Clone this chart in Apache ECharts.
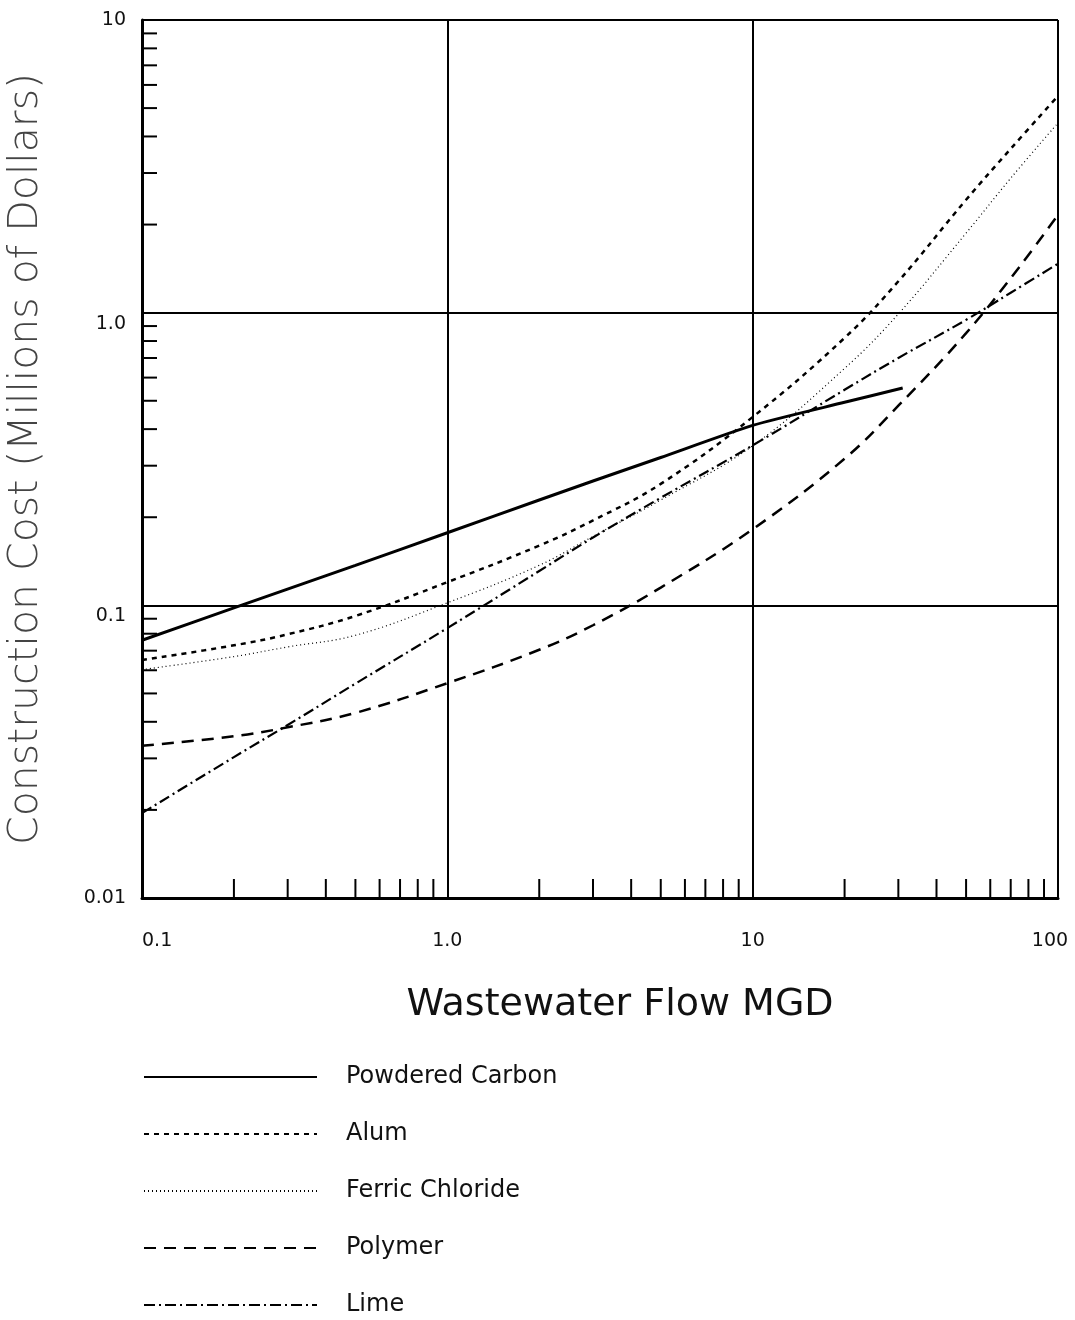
<!DOCTYPE html>
<html>
<head>
<meta charset="utf-8">
<script src="https://cdn.jsdelivr.net/npm/echarts@6/dist/echarts.min.js"></script>
<style>
  html, body { margin: 0; padding: 0; background: #fff; }
  #chart { width: 1075px; height: 1320px; }
</style>
</head>
<body>
<div id="chart"></div>
<script>
// values (flow in MGD, cost in millions of dollars)
const carbonFlow = [0.1, 0.2, 0.5, 1, 2, 3, 5, 10, 20, 31];
const carbonCost = [0.076, 0.098, 0.137, 0.177, 0.229, 0.266, 0.32, 0.412, 0.494, 0.553];

const alumFlow = [0.1, 0.2, 0.3, 0.5, 1, 2, 3, 5, 10, 20, 30, 50, 70, 100];
const alumCost = [0.065, 0.073, 0.0796, 0.092, 0.12, 0.16, 0.195, 0.26, 0.44, 0.82, 1.28, 2.43, 3.63, 5.5];

const ferricFlow = [0.1, 0.2, 0.3, 0.5, 1, 2, 3, 5, 10, 20, 30, 50, 70, 100];
const ferricCost = [0.0603, 0.0668, 0.0721, 0.079, 0.102, 0.137, 0.172, 0.229, 0.351, 0.645, 0.99, 1.87, 2.88, 4.45];

const polymerFlow = [0.1, 0.2, 0.3, 0.5, 1, 2, 3, 5, 10, 20, 30, 50, 75, 100];
const polymerCost = [0.0331, 0.0357, 0.0383, 0.0429, 0.0542, 0.0705, 0.0855, 0.115, 0.182, 0.317, 0.481, 0.851, 1.44, 2.16];

const limeFlow = [0.1, 0.2, 0.3, 0.5, 1, 2, 3, 5, 10, 20, 30, 50, 70, 100];
const limeCost = [0.0195, 0.0303, 0.039, 0.054, 0.0836, 0.131, 0.1705, 0.233, 0.352, 0.545, 0.7, 0.945, 1.17, 1.47];

const xTickLabels = ['0.1', '1.0', '10', '100'];
const yTickLabels = ['0.01', '0.1', '1.0', '10'];

const minorTicksX = [0.2, 0.3, 0.4, 0.5, 0.6, 0.7, 0.8, 0.9, 2, 3, 4, 5, 6, 7, 8, 9, 20, 30, 40, 50, 60, 70, 80, 90];
const minorTicksY = [0.02, 0.03, 0.04, 0.05, 0.06, 0.07, 0.08, 0.09, 0.2, 0.3, 0.4, 0.5, 0.6, 0.7, 0.8, 0.9, 2, 3, 4, 5, 6, 7, 8, 9];

const FONT = '"DejaVu Sans", sans-serif';

function pairs(xs, ys) {
    return xs.map((x, i) => [x, ys[i]]);
}

function lineSeries(name, xs, ys, style, smooth) {
    return {
        name: name,
        type: 'line',
        data: pairs(xs, ys),
        smooth: smooth,
        symbol: 'none',
        showSymbol: false,
        lineStyle: Object.assign({ color: '#000' }, style),
        itemStyle: { color: '#000' },
        z: 5,
    };
}

// minor log ticks, drawn inside the plot from the axis scale
function tickSeries(values, onX) {
    return {
        type: 'custom',
        silent: true,
        clip: false,
        z: 3,
        data: values.map((v) => (onX ? [v, 0.01] : [0.1, v])),
        renderItem: function (params, api) {
            const p = api.coord([api.value(0), api.value(1)]);
            const shape = onX
                ? { x1: p[0], y1: p[1], x2: p[0], y2: p[1] - 19 }
                : { x1: p[0], y1: p[1], x2: p[0] + 15, y2: p[1] };
            return { type: 'line', shape: shape, style: { stroke: '#000', lineWidth: 2 } };
        },
    };
}

const chart = echarts.init(document.getElementById('chart'));

const option = {
    animation: false,
    backgroundColor: '#fff',
    grid: { left: 142, right: 17, top: 20, bottom: 422, containLabel: false, outerBoundsMode: 'none' },
    legend: {
        data: ['Powdered Carbon', 'Alum', 'Ferric Chloride', 'Polymer', 'Lime'],
        orient: 'vertical',
        left: 143,
        top: 1065,
        padding: 0,
        itemWidth: 173,
        itemHeight: 20,
        itemGap: 33,
        inactiveColor: '#000',
        itemStyle: { color: 'rgba(0,0,0,0)', borderWidth: 0, opacity: 0 },
        textStyle: {
            fontFamily: FONT,
            fontSize: 24,
            lineHeight: 24,
            color: '#111',
            padding: [0, 0, 0, 24],
        },
    },
    xAxis: {
        type: 'log',
        logBase: 10,
        min: 0.1,
        max: 100,
        splitNumber: 3,
        name: 'Wastewater Flow MGD',
        nameLocation: 'middle',
        nameGap: 88,
        nameTextStyle: { fontFamily: FONT, fontSize: 38, color: '#111', padding: [0, 0, 0, 40] },
        axisLine: { show: true, lineStyle: { color: '#000', width: 3 } },
        axisTick: { show: false },
        splitLine: { show: true, lineStyle: { color: '#000', width: 2 } },
        axisLabel: {
            margin: 34,
            fontFamily: FONT,
            fontSize: 19,
            color: '#111',
            alignMinLabel: 'left',
            formatter: (v, i) => (i === 3 ? '{last|' + xTickLabels[i] + '}' : xTickLabels[i]),
            rich: {
                last: { fontFamily: FONT, fontSize: 19, color: '#111', padding: [0, 16, 0, 0] },
            },
        },
    },
    yAxis: {
        type: 'log',
        logBase: 10,
        min: 0.01,
        max: 10,
        splitNumber: 3,
        name: 'Construction Cost (Millions of Dollars)',
        nameLocation: 'middle',
        nameGap: 95,
        nameTextStyle: { fontFamily: FONT, fontSize: 41, fontWeight: 200, color: '#444' },
        axisLine: { show: true, lineStyle: { color: '#000', width: 3 } },
        axisTick: { show: false },
        splitLine: { show: true, lineStyle: { color: '#000', width: 2 } },
        axisLabel: {
            margin: 16,
            fontFamily: FONT,
            fontSize: 19,
            color: '#111',
            formatter: (v, i) => (i === 1 || i === 2 ? '{mid|' + yTickLabels[i] + '}' : yTickLabels[i]),
            rich: {
                mid: { fontFamily: FONT, fontSize: 19, color: '#111', padding: [22, 0, 0, 0] },
            },
        },
    },
    series: [
        lineSeries('Powdered Carbon', carbonFlow, carbonCost, { type: 'solid', width: 3 }, 0.2),
        lineSeries('Alum', alumFlow, alumCost, { type: [5, 5], width: 2.5 }, 0.4),
        lineSeries('Ferric Chloride', ferricFlow, ferricCost, { type: [1, 3], width: 1.2 }, 0.4),
        lineSeries('Polymer', polymerFlow, polymerCost, { type: [12, 8], width: 2.5 }, 0.4),
        lineSeries('Lime', limeFlow, limeCost, { type: [11, 4, 2, 4], width: 2.2 }, 0.4),
        tickSeries(minorTicksX, true),
        tickSeries(minorTicksY, false),
    ],
};

chart.setOption(option);
</script>
</body>
</html>
